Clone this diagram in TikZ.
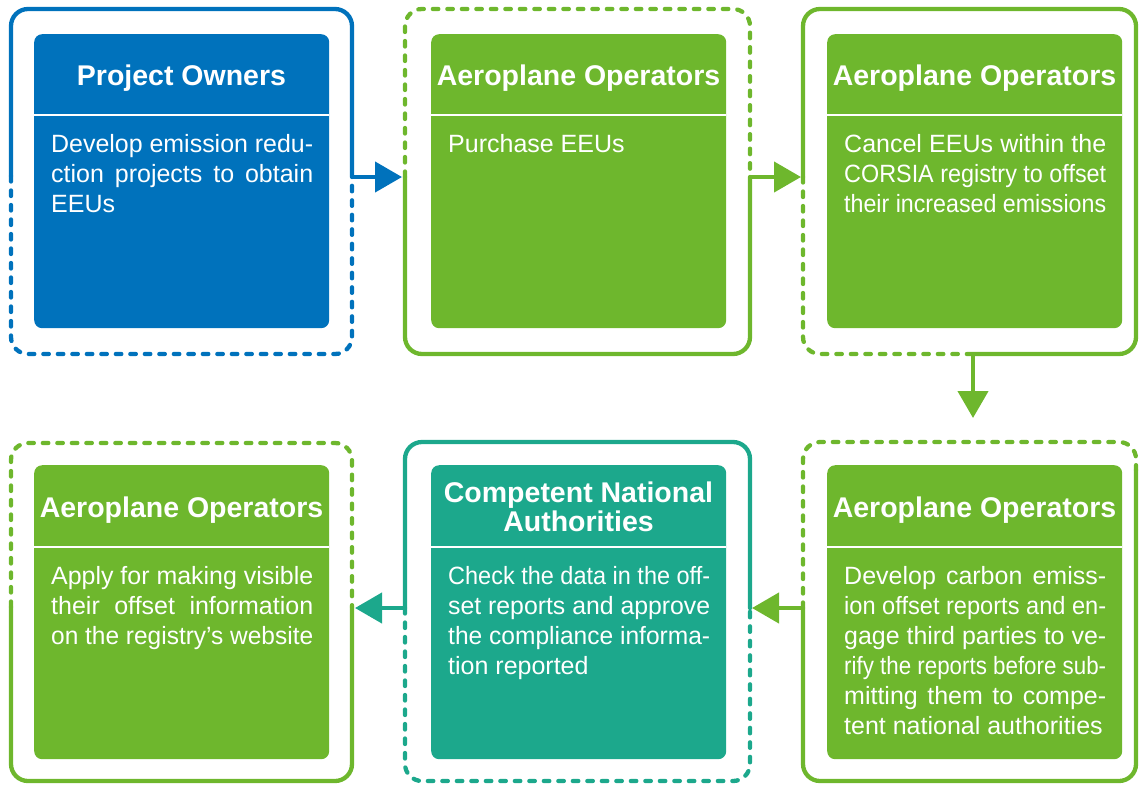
\documentclass[tikz,border=0pt]{standalone}
\usepackage{fontspec}
\setmainfont{Liberation Sans}
\usetikzlibrary{arrows.meta}
\definecolor{cblue}{RGB}{0,114,188}
\definecolor{cgreen}{RGB}{110,183,45}
\definecolor{cteal}{RGB}{28,168,140}
\newsavebox\lnbox
% full justified line (squeezed if too wide)
\newcommand\fl[1]{\sbox\lnbox{#1}\ifdim\wd\lnbox>262pt\resizebox{262pt}{\ht\lnbox}{\usebox\lnbox}\else\makebox[262pt][s]{#1}\fi}
% last line (natural, squeezed if too wide)
\newcommand\la[1]{\sbox\lnbox{#1}\ifdim\wd\lnbox>262pt\resizebox{262pt}{\ht\lnbox}{\usebox\lnbox}\else\usebox\lnbox\fi}
\tikzset{
  frm/.style={line width=4.3pt, rounded corners=17pt, line cap=round},
  dsh/.style={dash pattern=on 5.5pt off 9pt},
  inbox/.style={rounded corners=8pt, minimum width=295pt, minimum height=294pt, inner sep=0pt, anchor=north west, draw=none},
  sep/.style={white, line width=2.5pt},
  ttl/.style={text=white, inner sep=0pt, font=\fontsize{28.5}{29}\selectfont\bfseries, align=center},
  body/.style={text=white, inner sep=0pt, anchor=north west, align=left, font=\fontsize{25}{30}\selectfont},
  arr/.style={line width=4.3pt, -{Triangle[length=27pt,width=30pt]}}
}
\begin{document}
\begin{tikzpicture}[x=1pt,y=1pt]
\useasboundingbox (0,0) rectangle (1139,-785);

% ---------- frames ----------
% frame 1 (blue)
\draw[frm,cblue] (11,-176) -- (11,-9) -- (352,-9) -- (352,-177);
\draw[frm,cblue,dsh] (11,-176) -- (11,-354) -- (352,-354) -- (352,-177);
% frame 2
\draw[frm,cgreen,dsh] (405,-177) -- (405,-9) -- (750,-9) -- (750,-177);
\draw[frm,cgreen] (405,-177) -- (405,-354) -- (750,-354) -- (750,-177);
% frame 3
\draw[frm,cgreen] (803,-177) -- (803,-9) -- (1136,-9) -- (1136,-354) -- (973,-354);
\draw[frm,cgreen,dsh] (803,-177) -- (803,-354) -- (973,-354);
% frame 4
\draw[frm,cgreen,dsh] (11,-607) -- (11,-443) -- (352,-443) -- (352,-607);
\draw[frm,cgreen] (11,-607) -- (11,-781) -- (352,-781) -- (352,-607);
% frame 5 (teal)
\draw[frm,cteal] (405,-608) -- (405,-442) -- (750,-442) -- (750,-608);
\draw[frm,cteal,dsh] (405,-608) -- (405,-781) -- (750,-781) -- (750,-608);
% frame 6
\draw[frm,cgreen,dsh] (803,-608) -- (803,-442) -- (1136,-442) -- (1136,-470);
\draw[frm,cgreen] (803,-608) -- (803,-781) -- (1136,-781) -- (1136,-470);

% ---------- connector end points ----------
\coordinate (o1) at (352,-177);
\coordinate (i2) at (402,-177);
\coordinate (o2) at (750,-177);
\coordinate (i3) at (801,-177);
\coordinate (o3) at (973,-354);
\coordinate (i6) at (973,-418);
\coordinate (o6) at (803,-608);
\coordinate (i5) at (752,-608);
\coordinate (o5) at (405,-608);
\coordinate (i4) at (355,-608);

\draw[arr,cblue] (o1) -- (i2);
\draw[arr,cgreen] (o2) -- (i3);
\draw[arr,cgreen] (o3) -- (i6);
\draw[arr,cgreen] (o6) -- (i5);
\draw[arr,cteal] (o5) -- (i4);

% ---------- inner boxes ----------
\node[inbox, fill=cblue] (b1) at (34,-34) {};
\node[inbox, fill=cgreen] (b2) at (431,-34) {};
\node[inbox, fill=cgreen] (b3) at (827,-34) {};
\node[inbox, fill=cgreen] (b4) at (34,-465) {};
\node[inbox, fill=cteal] (b5) at (431,-465) {};
\node[inbox, fill=cgreen] (b6) at (827,-465) {};

\draw[sep] (34,-115) -- (329,-115);
\draw[sep] (431,-115) -- (726,-115);
\draw[sep] (827,-115) -- (1122,-115);
\draw[sep] (34,-547) -- (329,-547);
\draw[sep] (431,-547) -- (726,-547);
\draw[sep] (827,-547) -- (1122,-547);

% ---------- titles ----------
\node[ttl, anchor=base] (h1) at (181.5,-85) {Project Owners};
\node[ttl, anchor=base] (h2) at (578.5,-85) {Aeroplane Operators};
\node[ttl, anchor=base] (h3) at (974.5,-85) {Aeroplane Operators};
\node[ttl, anchor=base] (h4) at (181.5,-517) {Aeroplane Operators};
\node[ttl, anchor=north] (h5) at (578.5,-482) {Competent National\\Authorities};
\node[ttl, anchor=base] (h6) at (974.5,-517) {Aeroplane Operators};

% ---------- body texts ----------
\node[body] (t1) at (51,-134) {\fl{Develop emission redu-}\\\fl{ction projects to obtain}\\\la{EEUs}};
\node[body] (t2) at (448,-134) {\la{Purchase EEUs}};
\node[body] (t3) at (844,-134) {\fl{Cancel EEUs within the}\\\fl{CORSIA registry to offset}\\\la{their increased emissions}};
\node[body] (t4) at (51,-566) {\fl{Apply for making visible}\\\fl{their offset information}\\\la{on the registry’s website}};
\node[body] (t5) at (448,-566) {\fl{Check the data in the off-}\\\fl{set reports and approve}\\\fl{the compliance informa-}\\\la{tion reported}};
\node[body] (t6) at (844,-566) {\fl{Develop carbon emiss-}\\\fl{ion offset reports and en-}\\\fl{gage third parties to ve-}\\\fl{rify the reports before sub-}\\\fl{mitting them to compe-}\\\la{tent national authorities}};
\end{tikzpicture}
\end{document}
